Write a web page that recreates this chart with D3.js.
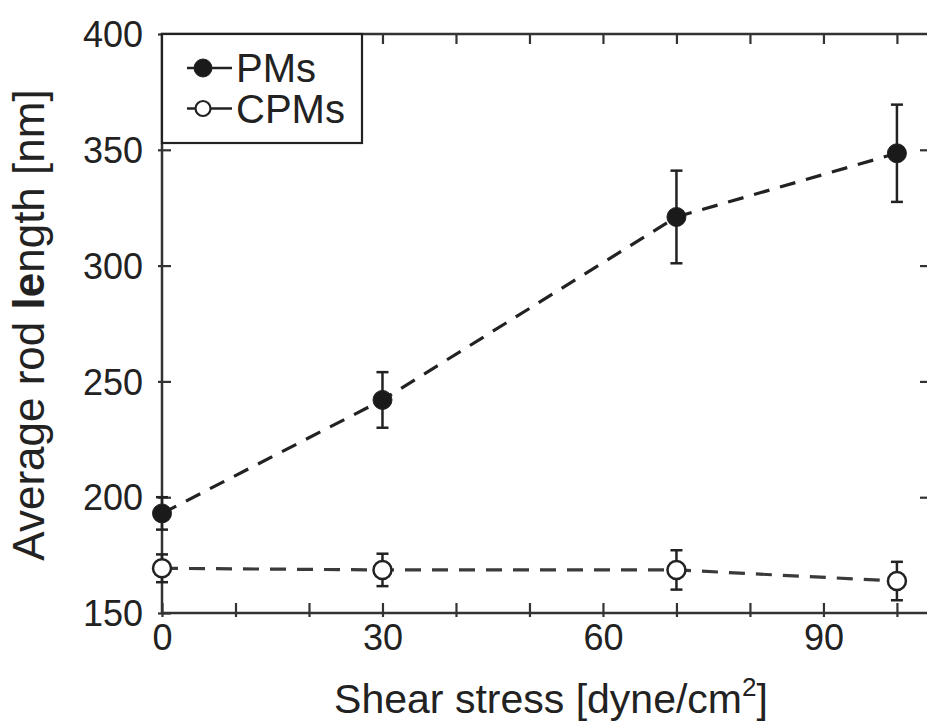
<!DOCTYPE html>
<html><head><meta charset="utf-8">
<script src="https://cdn.jsdelivr.net/npm/d3@7"></script>
<style>body{margin:0;background:#fff}svg{display:block}</style>
</head><body><svg id="c" width="927" height="722"></svg>
<script>
// ---- data ----
const shear = [0, 30, 70, 100];
const pmMean = [193, 242, 321, 348.5];
const pmErr = [7, 12, 20, 21];
const cpmMean = [169.3, 168.6, 168.6, 163.8];
const cpmErr = [6, 7, 8.5, 8.3];
const seriesNames = ["PMs", "CPMs"];
const xTickValues = [0, 10, 20, 30, 40, 50, 60, 70, 80, 90, 100];
const xLabelValues = [0, 30, 60, 90];
const yTickValues = [150, 200, 250, 300, 350, 400];
const xTitle = "Shear stress [dyne/cm";
const yTitleParts = [["Average rod ", "normal"], ["le", "bold"], ["ngth [nm]", "normal"]];

// ---- setup ----
const svg = d3.select("#c");
const FONT = "'Liberation Sans', Arial, Helvetica, sans-serif";
const ink = "#222";
const x = d3.scaleLinear().domain([0, 104.5]).range([162, 930]);
const y = d3.scaleLinear().domain([150, 400]).range([613, 34]);

// frame
svg.append("rect").attr("x", x(0)).attr("y", y(400))
  .attr("width", x(104.5) - x(0)).attr("height", y(150) - y(400))
  .attr("fill", "none").attr("stroke", "#333").attr("stroke-width", 2.5);

// bottom axis
const gb = svg.append("g").attr("transform", `translate(0,${y(150)})`)
  .call(d3.axisBottom(x).tickValues(xTickValues).tickSizeOuter(0)
    .tickFormat(d => xLabelValues.includes(d) ? d : ""));
gb.select(".domain").remove();
gb.selectAll(".tick line").attr("y1", 4).attr("y2", -10).attr("stroke", "#333").attr("stroke-width", 2.2);
gb.selectAll(".tick text").attr("y", 37).attr("dy", null)
  .attr("font-size", 36).attr("font-family", FONT).attr("fill", ink);

// top axis
const gt = svg.append("g").attr("transform", `translate(0,${y(400)})`)
  .call(d3.axisTop(x).tickValues(xTickValues.slice(1)).tickSizeOuter(0).tickFormat(""));
gt.select(".domain").remove();
gt.selectAll(".tick line").attr("y1", 0).attr("y2", 10).attr("stroke", "#333").attr("stroke-width", 2.2);

// left axis
const gl = svg.append("g").attr("transform", `translate(${x(0)},0)`)
  .call(d3.axisLeft(y).tickValues(yTickValues).tickSizeOuter(0));
gl.select(".domain").remove();
gl.selectAll(".tick line").attr("x1", -4).attr("x2", 9).attr("stroke", "#333").attr("stroke-width", 2.2);
gl.selectAll(".tick text").attr("x", -19).attr("dy", "0.35em")
  .attr("font-size", 36).attr("font-family", FONT).attr("fill", ink);

// right axis
const gr = svg.append("g").attr("transform", `translate(${x(104.5)},0)`)
  .call(d3.axisRight(y).tickValues(yTickValues.slice(1, -1)).tickSizeOuter(0).tickFormat(""));
gr.select(".domain").remove();
gr.selectAll(".tick line").attr("x1", 0).attr("x2", -10).attr("stroke", "#333").attr("stroke-width", 2.2);

// axis titles
const xt = svg.append("text").attr("x", 551).attr("y", 713).attr("text-anchor", "middle")
  .attr("font-size", 41).attr("font-family", FONT).attr("fill", ink);
xt.append("tspan").text(xTitle);
xt.append("tspan").attr("font-size", 26).attr("dy", -17).text("2");
xt.append("tspan").attr("dy", 17).text("]");

const yt = svg.append("text").attr("transform", "translate(44,325) rotate(-90)")
  .attr("text-anchor", "middle").attr("font-size", 44).attr("font-family", FONT).attr("fill", ink);
yTitleParts.forEach(([t, w]) => yt.append("tspan").attr("font-weight", w).text(t));

// series
const pm = shear.map((s, i) => ({x: s, m: pmMean[i], e: pmErr[i]}));
const cpm = shear.map((s, i) => ({x: s, m: cpmMean[i], e: cpmErr[i]}));
const line = d3.line().x(d => x(d.x)).y(d => y(d.m));

function drawSeries(data, filled, lineColor) {
  const g = svg.append("g");
  g.append("path").datum(data).attr("d", line).attr("fill", "none")
    .attr("stroke", lineColor).attr("stroke-width", 3.2).attr("stroke-dasharray", "16,11");
  const eb = g.selectAll(".eb").data(data).join("g");
  eb.append("line").attr("x1", d => x(d.x)).attr("x2", d => x(d.x))
    .attr("y1", d => y(d.m - d.e)).attr("y2", d => y(d.m + d.e))
    .attr("stroke", "#222").attr("stroke-width", 2.5);
  [1, -1].forEach(sg => eb.append("line")
    .attr("x1", d => x(d.x) - 6).attr("x2", d => x(d.x) + 6)
    .attr("y1", d => y(d.m + sg * d.e)).attr("y2", d => y(d.m + sg * d.e))
    .attr("stroke", "#222").attr("stroke-width", 2.5));
  g.selectAll("circle").data(data).join("circle")
    .attr("cx", d => x(d.x)).attr("cy", d => y(d.m)).attr("r", filled ? 9.5 : 9)
    .attr("fill", filled ? "#1a1a1a" : "#fff").attr("stroke", "#222").attr("stroke-width", filled ? 1 : 2.5);
}
drawSeries(cpm, false, "#3a3a3a");
drawSeries(pm, true, "#222");

// legend
const lg = svg.append("g");
lg.append("rect").attr("x", 162).attr("y", 34).attr("width", 200).attr("height", 109)
  .attr("fill", "#fff").attr("stroke", "#222").attr("stroke-width", 2.2);
seriesNames.forEach((name, i) => {
  const cy = 68 + i * 40.5;
  lg.append("line").attr("x1", 187).attr("x2", 232).attr("y1", cy).attr("y2", cy)
    .attr("stroke", "#222").attr("stroke-width", 2.5);
  lg.append("circle").attr("cx", 203).attr("cy", cy).attr("r", i === 0 ? 9 : 7.5)
    .attr("fill", i === 0 ? "#1a1a1a" : "#fff").attr("stroke", "#222").attr("stroke-width", i === 0 ? 1 : 2.2);
  lg.append("text").attr("x", 236).attr("y", cy).attr("dy", "0.36em")
    .attr("font-size", 40).attr("font-family", FONT).attr("fill", ink).text(name);
});
</script></body></html>
